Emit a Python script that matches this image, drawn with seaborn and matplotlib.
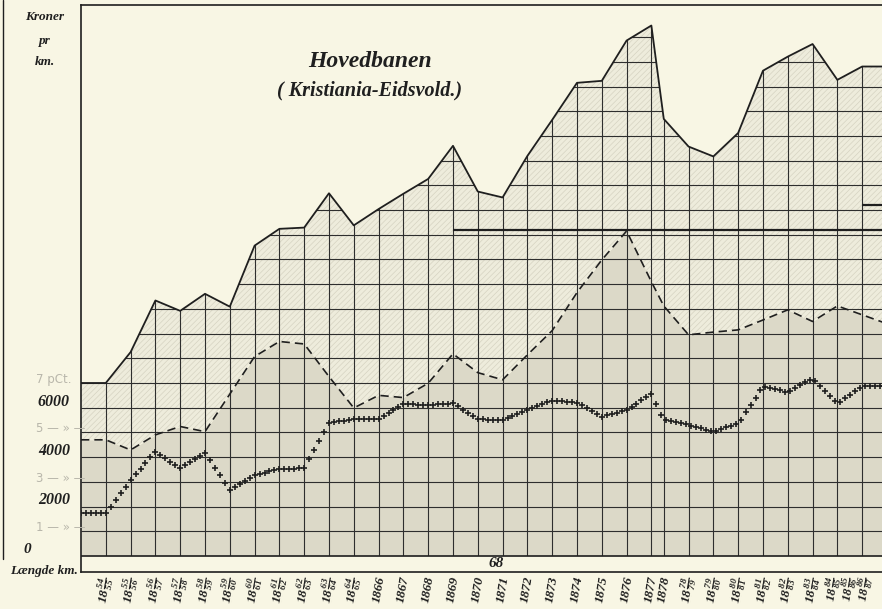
"""
Hovedbanen (Kristiania-Eidsvold) - indtægter og udgifter pr. km.
"""

import numpy as np
import pandas as pd
import matplotlib.pyplot as plt
import seaborn as sns
from matplotlib.path import Path
from matplotlib.patches import PathPatch
from matplotlib.lines import Line2D

# periods (driftsaar) as printed under the chart
periods = ["1854/55", "1855/56", "1856/57", "1857/58", "1858/59", "1859/60",
           "1860/61", "1861/62", "1862/63", "1863/64", "1864/65",
           "1866", "1867", "1868", "1869", "1870", "1871", "1872", "1873",
           "1874", "1875", "1876", "1877", "1878",
           "1878/79", "1879/80", "1880/81", "1881/82", "1882/83", "1883/84",
           "1884/85", "1885/86", "1886/87"]

# Kroner pr km
brutto = [7000, 8250, 10340, 9920, 10610, 10090, 12560, 13240, 13290, 14680,
          13380, 14040, 14660, 15260, 16600, 14750, 14510, 16190, 17650, 19150,
          19230, 20860, 21470, 17690, 16570, 16170, 17120, 19640, 20210, 20720,
          19270, 19810, 19810]
udgift = [4700, 4290, 4900, 5240, 5030, 6550, 8070, 8680, 8580, 7260,
          5990, 6500, 6410, 6990, 8180, 7420, 7130, 8140, 9120, 10660,
          11980, 13150, 11100, 10120, 8950, 9060, 9150, 9550, 9960, 9490,
          10120, 9760, 9400]
# rente i pCt. (1 pCt. = 1000 paa skalaen)
rente = [1730, 3080, 4220, 3550, 4180, 2670, 3280, 3510, 3550, 5400,
         5530, 5550, 6150, 6100, 6180, 5530, 5510, 5910, 6290, 6210,
         5640, 5910, 6550, 5510, 5300, 5030, 5370, 6860, 6630, 7190,
         6180, 6880, 6880]

kroner_ticks = [0, 2000, 4000, 6000]
pct_ticks = [1000, 3000, 5000, 7000]
pct_labels = ["1 — » —", "3 — » —", "5 — » —", "7 pCt."]
laengde_km = "68"

paper = "#f8f6e4"
light = "#eeecdc"
dark = "#dcd9c8"
ink = "#1f1f1f"

sns.set_style("white")
plt.rcParams.update({
    "hatch.color": "#d6d3c2",
    "hatch.linewidth": 0.5,
    "mathtext.fontset": "custom",
    "mathtext.rm": "Liberation Serif:bold:italic",
    "mathtext.it": "Liberation Serif:bold:italic",
    "mathtext.bf": "Liberation Serif:bold:italic",
})
serif = dict(family="Liberation Serif", style="italic", weight="bold")

# x positions: one column per year, the half year 1878 takes half a column
pos = [i for i in range(23)] + [22.5 + i for i in range(10)]
# lead-in column before the first year repeats the first value
df = pd.DataFrame({
    "pos": [-1] + pos,
    "brutto": [brutto[0]] + brutto,
    "udgift": [udgift[0]] + udgift,
    "rente": [rente[0]] + rente,
})

x_left, x_right = -1, 31.3
y_low, y_top = -650, 22300

fig = plt.figure(figsize=(8.82, 6.09), dpi=100, facecolor=paper)
ax = fig.add_axes([81 / 882, 37 / 609, 801 / 882, 567 / 609])
ax.set_facecolor(paper)

# filled areas
ax.fill_between(df["pos"], df["udgift"], df["brutto"], facecolor=light,
                hatch="//////", edgecolor="#d6d3c2", linewidth=0, zorder=1)
ax.fill_between(df["pos"], 0, df["udgift"], facecolor=dark, linewidth=0, zorder=1)

# grid only inside the area under the top curve
verts = [(df["pos"].iloc[0], 0)] + list(zip(df["pos"], df["brutto"])) + [(df["pos"].iloc[-1], 0), (df["pos"].iloc[0], 0)]
clip = PathPatch(Path(verts), transform=ax.transData, facecolor="none", edgecolor="none")
ax.add_patch(clip)
vl = ax.vlines([p for p in pos if p < x_right], 0, y_top, color="#2e2e2e", lw=0.8, zorder=2)
hl = ax.hlines(np.arange(1000, 23000, 1000), x_left, x_right, color="#2e2e2e", lw=0.8, zorder=2)
ref = ax.hlines([13200, 14200], [14, 30.5], [x_right, x_right], color=ink, lw=1.6, zorder=2)
for art in (vl, hl, ref):
    art.set_clip_path(clip)
ax.axhline(0, color=ink, lw=1.2, zorder=3)

# curves
sns.lineplot(data=df, x="pos", y="brutto", ax=ax, color=ink, lw=1.3,
             estimator=None, sort=False, zorder=4)
sns.lineplot(data=df, x="pos", y="udgift", ax=ax, color=ink, lw=1.2,
             linestyle=(0, (5, 3)), estimator=None, sort=False, zorder=4)

# rente curve: a chain of small crosses along the line
dense_x = np.arange(-1, df["pos"].iloc[-1], 0.2)
dense_y = np.interp(dense_x, df["pos"], df["rente"])
ax.plot(dense_x, dense_y, linestyle="none", marker="+", ms=5, mew=1.2,
        color=ink, zorder=5)

ax.set_xlim(x_left, x_right)
ax.set_ylim(y_low, y_top)

# frame
for side in ["left", "top", "bottom"]:
    ax.spines[side].set_color(ink)
    ax.spines[side].set_linewidth(1.2)
ax.spines["right"].set_visible(False)

ax.set_xticks([])
ax.set_yticks(np.arange(0, 8000, 1000))
ax.set_yticklabels([])
ax.tick_params(axis="y", length=7, width=0.9, color=ink, direction="out")
ax.set_xlabel("")
ax.set_ylabel("")

# left scale texts
for v in kroner_ticks:
    if v == 0:
        ax.text(-3.15, v + 250, "0", ha="center", va="center", fontsize=11,
                color=ink, clip_on=False, **serif)
    else:
        ax.text(-1.45, v + 250, str(v), ha="right", va="center", fontsize=11.5,
                color=ink, clip_on=False, **serif)
for v, lab in zip(pct_ticks, pct_labels):
    ax.text(-2.8, v + 150, lab, ha="left", va="center", fontsize=8.5,
            color="#b9b7ab", family="DejaVu Sans", clip_on=False)

ax.text(-2.45, 21800, "Kroner", ha="center", va="center", fontsize=9.5,
        color=ink, clip_on=False, **serif)
ax.text(-2.45, 20850, "pr", ha="center", va="center", fontsize=9.5,
        color=ink, clip_on=False, **serif)
ax.text(-2.45, 20000, "km.", ha="center", va="center", fontsize=9.5,
        color=ink, clip_on=False, **serif)
ax.text(-2.5, -620, "Længde km.", ha="center", va="center", fontsize=9.5,
        color=ink, clip_on=False, **serif)
ax.text(15.75, -300, laengde_km, ha="center", va="center", fontsize=11,
        color=ink, **serif)

# title
ax.text(10.65, 20000, "Hovedbanen", ha="center", va="center", fontsize=17,
        color=ink, **serif)
ax.text(10.65, 18850, "( Kristiania-Eidsvold.)", ha="center", va="center",
        fontsize=14.5, color=ink, **serif)


def period_label(p):
    if "/" in p:
        a, b = p[2:].split("/")
        return r"$18\,\frac{%s}{%s}$" % (a, b)
    return p


# the last three labels are squeezed in at the sheet edge, like on the print
label_x = pos[:-3] + [pos[-3] - 0.2, pos[-2] - 0.55, x_right - 0.7]
for i, (x, lab) in enumerate(zip(label_x, periods)):
    fs = 9 if i >= len(periods) - 3 else 9.5
    ax.text(x, -780, period_label(lab), rotation=80,
            ha="center", va="top", fontsize=fs, color=ink, clip_on=False,
            **serif)

# edge of the sheet on the far left
fig.add_artist(Line2D([3 / 882, 3 / 882], [50 / 609, 1.0], color=ink, lw=1.0))

fig.savefig("out.png", dpi=100, facecolor=paper)
